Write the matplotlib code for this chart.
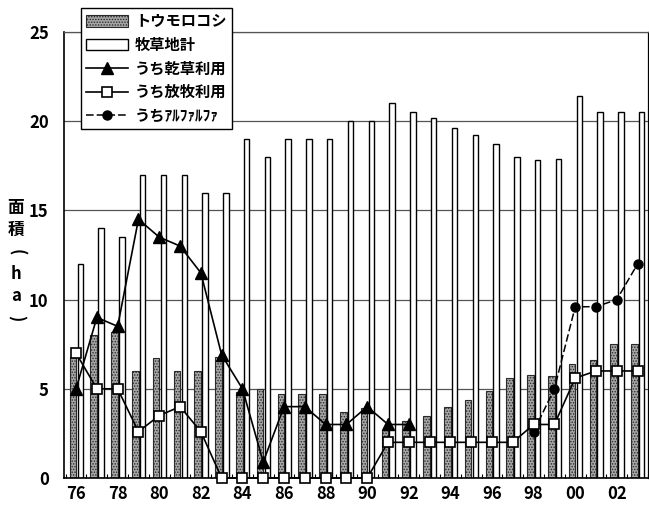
import matplotlib
matplotlib.use("Agg")
import matplotlib.pyplot as plt
import numpy as np
from matplotlib.patches import Patch
from matplotlib.lines import Line2D

plt.rcParams['font.family'] = ['Noto Sans CJK JP', 'DejaVu Sans']
plt.rcParams['hatch.color'] = '#3a3a3a'
plt.rcParams['hatch.linewidth'] = 0.7

# Year labels (two-digit) and areas in ha
years = ['76', '77', '78', '79', '80', '81', '82', '83', '84', '85', '86', '87', '88', '89',
         '90', '91', '92', '93', '94', '95', '96', '97', '98', '99', '00', '01', '02', '03']
corn = [6.8, 8.0, 8.2, 6.0, 6.7, 6.0, 6.0, 6.8, 4.8, 5.0, 4.7, 4.7, 4.7, 3.7,
        3.9, 2.7, 3.2, 3.5, 4.0, 4.4, 4.9, 5.6, 5.8, 5.7, 6.4, 6.6, 7.5, 7.5]
pasture_total = [12, 14, 13.5, 17, 17, 17, 16, 16, 19, 18, 19, 19, 19, 20,
                 20, 21, 20.5, 20.2, 19.6, 19.2, 18.7, 18, 17.8, 17.9, 21.4, 20.5, 20.5, 20.5]
hay = [5, 9, 8.5, 14.5, 13.5, 13, 11.5, 6.9, 5, 0.9, 4, 4, 3, 3, 4, 3, 3]
grazing = [7, 5, 5, 2.6, 3.5, 4, 2.6, 0, 0, 0, 0, 0, 0, 0,
           0, 2, 2, 2, 2, 2, 2, 2, 3, 3, 5.6, 6, 6, 6]
alfalfa_years = ['98', '99', '00', '01', '02', '03']
alfalfa = [2.6, 5, 9.6, 9.6, 10, 12]

labels = ['トウモロコシ', '牧草地計', 'うち乾草利用', 'うち放牧利用', 'うちｱﾙﾌｧﾙﾌｧ']

W, H = 649, 508
fig = plt.figure(figsize=(W / 100, H / 100), dpi=100)
ax = fig.add_axes([64 / W, 30 / H, 584 / W, 446 / H])

x = np.arange(len(years))
x_alf = np.array([years.index(y) for y in alfalfa_years])

corn_style = dict(facecolor='#a6a6a6', edgecolor='#2a2a2a', hatch='......', linewidth=0.8)
ax.bar(x - 0.15, corn, width=0.32, zorder=2, **corn_style)
ax.bar(x + 0.2, pasture_total, width=0.26, facecolor='white', edgecolor='black',
       linewidth=1.0, zorder=2)

ax.plot(x[:len(hay)], hay, color='black', lw=1.2, marker='^', ms=8,
        mfc='black', mec='black', zorder=4, clip_on=False)
ax.plot(x, grazing, color='black', lw=1.2, marker='s', ms=7,
        mfc='white', mec='black', mew=1.2, zorder=5, clip_on=False)
ax.plot(x_alf, alfalfa, color='black', lw=1.1, ls=(0, (5, 2)), marker='o', ms=6.5,
        mfc='black', mec='black', zorder=4, clip_on=False)

ax.set_xlim(-0.58, 27.5)
ax.set_ylim(0, 25)
ax.set_yticks([0, 5, 10, 15, 20, 25])
ax.yaxis.grid(True, color='#555555', lw=0.9, zorder=1)
ax.set_axisbelow(True)

ax.set_xticks(x[::2])
ax.set_xticklabels(years[::2])
ax.set_xticks(np.arange(-0.5, 28, 1), minor=True)
ax.tick_params(axis='x', which='major', length=0, pad=5, labelsize=12)
ax.tick_params(axis='x', which='minor', direction='in', length=3, width=0.8)
ax.tick_params(axis='y', length=0, pad=11, labelsize=12)
for t in ax.get_xticklabels() + ax.get_yticklabels():
    t.set_fontweight('bold')

for s in ['left', 'bottom']:
    ax.spines[s].set_linewidth(1.2)
ax.spines['top'].set_linewidth(0.9)
ax.spines['top'].set_color('#555555')
ax.spines['right'].set_linewidth(0.9)

# Vertical axis title, one character per line (brackets turned sideways)
ytitle = [('面', 0), ('積', 0), ('(', -90), ('h', 0), ('a', 0), (')', -90)]
for i, (ch, rot) in enumerate(ytitle):
    fig.text(16 / W, 1 - (208 + 22 * i) / H, ch, ha='center', va='center',
             rotation=rot, rotation_mode='anchor',
             fontsize=12, fontweight='bold')

handles = [
    Patch(**corn_style),
    Patch(facecolor='white', edgecolor='black', linewidth=1.0),
    Line2D([], [], color='black', lw=1.2, marker='^', ms=8),
    Line2D([], [], color='black', lw=1.2, marker='s', ms=7, mfc='white', mew=1.2),
    Line2D([], [], color='black', lw=1.1, ls=(0, (5, 2)), marker='o', ms=6.5),
]
leg = ax.legend(handles, labels, loc='upper left', bbox_to_anchor=(0.029, 1.054),
                borderaxespad=0, frameon=True, fancybox=False, framealpha=1,
                edgecolor='black', handlelength=2.7, handleheight=0.75,
                labelspacing=0.5, borderpad=0.35, handletextpad=0.5,
                prop={'weight': 'bold', 'size': 11})
leg.get_frame().set_linewidth(1.0)
leg.set_zorder(10)

fig.savefig('out.png', dpi=100)
